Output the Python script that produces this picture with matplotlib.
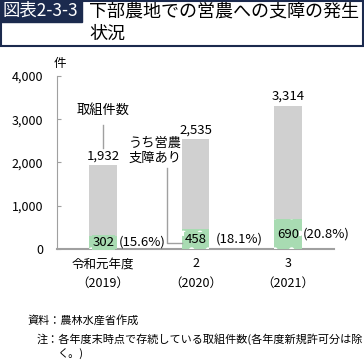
import matplotlib.pyplot as plt
import matplotlib
from matplotlib.patches import Rectangle

matplotlib.rcParams['font.family'] = ['Noto Sans CJK JP', 'DejaVu Sans']
matplotlib.rcParams['hatch.linewidth'] = 1.5

years = ["令和元年度\n（2019）", "2\n（2020）", "3\n（2021）"]
total = [1932, 2535, 3314]
affected = [302, 458, 690]
share = ["(15.6%)", "(18.1%)", "(20.8%)"]

GRAY = "#d0d0d0"
GREEN = "#a8dbb2"
NAVY = "#1b2a4e"
AXC = "#a0a0a0"

W, H = 364, 360
fig = plt.figure(figsize=(W / 100, H / 100), dpi=100)

# ── title box ──
fig.patches.append(Rectangle((1 / W, 1 - 46 / H), 362 / W, 45 / H, transform=fig.transFigure,
                             fill=False, edgecolor=NAVY, linewidth=1.5))
fig.patches.append(Rectangle((0, 1 - 22 / H), 82 / W, 22 / H, transform=fig.transFigure,
                             facecolor=NAVY, edgecolor=NAVY))
fig.text(3 / W, 1 - 11 / H, "図表2-3-3", color="white", fontsize=12.5, va="center", ha="left")
fig.text(89 / W, 1 - 11 / H, "下部農地での営農への支障の発生", color="black", fontsize=13, va="center", ha="left")
fig.text(89 / W, 1 - 34 / H, "状況", color="black", fontsize=13, va="center", ha="left")

# ── chart ──
ax = fig.add_axes([57 / W, 1 - 249 / H, 277 / W, 173 / H])
x = range(len(years))
bw = 0.3
ax.bar(x, total, width=bw, color=GRAY, linewidth=0, zorder=2)
ax.bar(x, affected, width=bw, color=GREEN, edgecolor="white", linewidth=0, hatch=".", zorder=3)

for i in x:
    ax.text(i, total[i] + 60, f"{total[i]:,}", ha="center", va="bottom", fontsize=9.5)
    ax.text(i, affected[i] / 2, str(affected[i]), ha="center", va="center", fontsize=9.5,
            zorder=4, bbox=dict(boxstyle="square,pad=0.05", facecolor=GREEN, edgecolor="none"))
offs = [0.17, 0.22, 0.165]
for i in x:
    ax.text(i + offs[i], affected[i] / 2, share[i], ha="left", va="center", fontsize=9.5)

# annotations
ax.text(0, 3200, "取組件数", ha="center", va="center", fontsize=9.5)
ax.plot([0, 0], [2335, 2867], color=AXC, linewidth=1)
ax.text(0.56, 2270, "うち営農\n支障あり", ha="center", va="center", fontsize=9.5, linespacing=1.25)
ax.plot([0.696, 0.696, 0.85], [1873, 139, 139], color=AXC, linewidth=1, zorder=5)

ax.set_xlim(-0.5, 2.5)
ax.set_ylim(0, 4000)
ax.set_yticks([0, 1000, 2000, 3000, 4000])
ax.set_yticklabels(["0", "1,000", "2,000", "3,000", "4,000"])
ax.set_xticks(list(x))
ax.set_xticklabels(years, linespacing=1.6)
ax.tick_params(axis="y", direction="in", length=3, color=AXC, pad=10, labelsize=9)
ax.tick_params(axis="x", length=0, pad=6, labelsize=9)
for s in ["top", "right"]:
    ax.spines[s].set_visible(False)
ax.spines["left"].set_color(AXC)
ax.spines["bottom"].set_color(AXC)
ax.spines["bottom"].set_linewidth(1.5)

fig.text(54 / W, 1 - 63 / H, "件", fontsize=9, va="center", ha="left")

# ── notes ──
fig.text(27 / W, 1 - 320 / H, "資料：農林水産省作成", fontsize=8, va="center", ha="left")
fig.text(37 / W, 1 - 339 / H, "注：各年度末時点で存続している取組件数(各年度新規許可分は除",
         fontsize=8, va="center", ha="left")
fig.text(57 / W, 1 - 354 / H, "く。)", fontsize=8, va="center", ha="left")

fig.savefig("out.png", dpi=100)
